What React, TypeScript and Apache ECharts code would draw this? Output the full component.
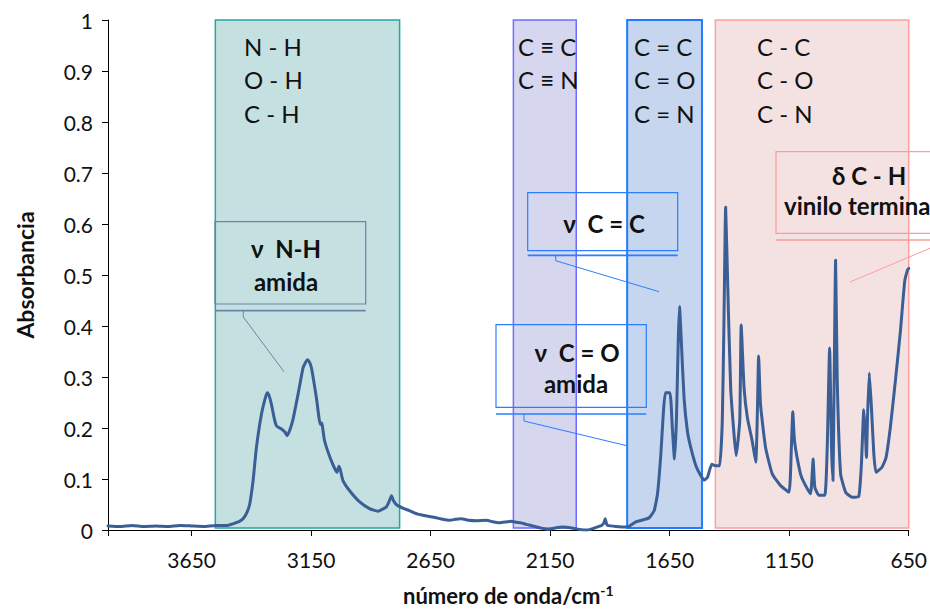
import React, { useEffect, useRef } from "react";
import * as echarts from "echarts";

// Spectrum (wavenumber cm-1, absorbance)
const wavenumbers = [
  4000, 3950, 3900, 3850, 3800, 3750, 3700, 3650, 3600, 3550, 3500, 3478, 3450, 3435, 3420, 3407, 3393, 3379, 3358, 3340,
  3333, 3325, 3316, 3305, 3295, 3274, 3260, 3251, 3240, 3226, 3205, 3184, 3172, 3166, 3158, 3149, 3128, 3112, 3106, 3103,
  3094, 3066, 3042, 3034, 3028, 3017, 2989, 2947, 2906, 2871, 2836, 2822, 2814, 2806, 2794, 2767, 2739, 2704, 2683, 2650,
  2627, 2600, 2571, 2545, 2523, 2490, 2460, 2418, 2390, 2363, 2314, 2290, 2272, 2250, 2223, 2190, 2160, 2130, 2098, 2060,
  2028, 1993, 1970, 1952, 1935, 1925, 1920, 1914, 1910, 1875, 1827, 1792, 1760, 1736, 1715, 1701, 1687, 1677, 1668, 1649,
  1639, 1630, 1622, 1614, 1609, 1602, 1590, 1576, 1562, 1538, 1506, 1492, 1474, 1458, 1441, 1430, 1423, 1416, 1407, 1395,
  1381, 1372, 1357, 1351, 1339, 1325, 1305, 1290, 1284, 1278, 1270, 1249, 1221, 1186, 1151, 1141, 1135, 1128, 1103, 1089,
  1061, 1054, 1050, 1043, 1026, 1001, 991, 981, 973, 967, 962, 956, 949, 935, 914, 886, 859, 848, 838, 831,
  827, 822, 815, 806, 796, 787, 762, 745, 727, 706, 685, 667, 655, 650,
];
const absorbance = [
  0.008, 0.007, 0.009, 0.007, 0.008, 0.007, 0.009, 0.008, 0.007, 0.009, 0.009, 0.012, 0.017, 0.022, 0.033, 0.051, 0.097, 0.162, 0.227, 0.262,
  0.269, 0.262, 0.246, 0.22, 0.204, 0.198, 0.192, 0.185, 0.195, 0.217, 0.266, 0.318, 0.33, 0.334, 0.33, 0.318, 0.259, 0.207, 0.21, 0.204,
  0.175, 0.136, 0.113, 0.125, 0.118, 0.097, 0.077, 0.055, 0.042, 0.037, 0.045, 0.058, 0.067, 0.058, 0.05, 0.043, 0.038, 0.031, 0.029, 0.026,
  0.024, 0.021, 0.019, 0.021, 0.022, 0.019, 0.018, 0.019, 0.016, 0.014, 0.017, 0.015, 0.014, 0.011, 0.008, 0.004, 0.001, 0.004, 0.006, 0.004,
  0.001, 0.0, 0.003, 0.006, 0.009, 0.014, 0.022, 0.012, 0.009, 0.007, 0.006, 0.016, 0.02, 0.024, 0.038, 0.071, 0.149, 0.227, 0.269, 0.269,
  0.201, 0.139, 0.214, 0.376, 0.438, 0.376, 0.259, 0.194, 0.162, 0.123, 0.098, 0.103, 0.129, 0.126, 0.126, 0.214, 0.409, 0.633, 0.474, 0.279,
  0.188, 0.146, 0.214, 0.402, 0.279, 0.22, 0.175, 0.133, 0.214, 0.341, 0.246, 0.162, 0.11, 0.087, 0.074, 0.162, 0.232, 0.175, 0.11, 0.094,
  0.071, 0.11, 0.139, 0.084, 0.068, 0.068, 0.162, 0.357, 0.162, 0.097, 0.292, 0.529, 0.292, 0.11, 0.074, 0.064, 0.066, 0.129, 0.236, 0.188,
  0.142, 0.227, 0.308, 0.24, 0.149, 0.113, 0.123, 0.142, 0.201, 0.292, 0.389, 0.487, 0.51, 0.513,
];

// Shaded spectral regions [from, to] in cm-1
const regionRanges = [
  [3551, 2780],
  [2304, 2041],
  [1828, 1515],
  [1459, 650],
];
const regionFills = ["rgba(62,152,152,0.3)", "rgba(91,91,191,0.25)", "rgba(62,118,198,0.3)", "rgba(200,110,110,0.2)"];
const regionBorders = ["#22a89f", "#6e6eff", "#1f7bff", "#ff9f9f"];

const xTickStart = 650;
const xTickStep = 500;

const FONT = "Lato, 'Open Sans', sans-serif";

function bandText(lines: string[], x: number, y0: number) {
  return lines.map((t, i) => ({
    type: "text",
    x,
    y: y0 + i * 33.5,
    style: { text: t, fill: "#111", font: `24px ${FONT}`, textVerticalAlign: "middle", textAlign: "left" },
    z: 50,
  }));
}

function calloutBox(
  color: string,
  box: [number, number, number, number],
  underY: number,
  underX2: number,
  leader: number[][],
  lw: number
) {
  const [x, y, w, h] = box;
  return [
    { type: "rect", shape: { x, y, width: w, height: h }, style: { fill: "none", stroke: color, lineWidth: lw }, z: 50 },
    { type: "line", shape: { x1: x, y1: underY, x2: underX2, y2: underY }, style: { stroke: color, lineWidth: lw + 0.5 }, z: 50 },
    { type: "polyline", shape: { points: leader }, style: { fill: "none", stroke: color, lineWidth: 1 }, z: 50 },
  ];
}

function boldText(t: string, x: number, y: number, align: string = "center") {
  return {
    type: "text",
    x,
    y,
    style: { text: t, fill: "#111", font: `bold 24px ${FONT}`, textVerticalAlign: "middle", textAlign: align },
    z: 51,
  };
}

export default function App() {
  const ref = useRef<HTMLDivElement>(null);
  useEffect(() => {
    if (!ref.current) return;
    const chart = echarts.init(ref.current, undefined, { renderer: "svg" });
    const data = wavenumbers.map((w, i) => [w, absorbance[i]]);
    const areas = regionRanges.map((r, i) => [
      {
        xAxis: r[0],
        yAxis: 1,
        itemStyle: { color: regionFills[i], borderColor: regionBorders[i], borderWidth: i === 2 ? 2 : 1.5 },
      },
      { xAxis: r[1], yAxis: 0.004 },
    ]);

    const graphics: any[] = [
      ...bandText(["N - H", "O - H", "C - H"], 244, 46),
      ...bandText(["C \u2261 C", "C \u2261 N"], 518, 46),
      ...bandText(["C = C", "C = O", "C = N"], 634, 46),
      ...bandText(["C - C", "C - O", "C - N"], 757, 46),
      ...calloutBox("#6b84a8", [215, 221.7, 150.7, 82.3], 310.7, 365.7, [[243.3, 310.7], [243.3, 317], [284, 371.7]], 1.2),
      boldText("\u03bd  N-H", 286, 248),
      boldText("amida", 286, 281),
      ...calloutBox("#2a7fff", [527.7, 192.7, 150, 58], 255.3, 677.7, [[555.7, 255.3], [555.7, 260.7], [659, 291.7]], 1.2),
      boldText("\u03bd  C = C", 604, 223),
      ...calloutBox("#2a7fff", [496, 324.7, 150.3, 82.6], 414, 646.3, [[524, 414], [524, 421], [626.7, 445.7]], 1.2),
      boldText("\u03bd  C = O", 577, 352),
      boldText("amida", 576, 383),
      ...calloutBox("#ff9a9a", [776, 151.7, 220, 81.6], 240, 1000, [[940, 244], [850, 282]], 1.2),
      boldText("\u03b4 C - H", 869, 175),
      boldText("vinilo terminal", 784, 205, "left"),
    ];

    chart.setOption({
      animation: false,
      backgroundColor: "#fff",
      textStyle: { fontFamily: FONT },
      grid: { left: 108, right: 20, top: 20, bottom: 78, containLabel: false },
      xAxis: {
        type: "value",
        inverse: true,
        min: xTickStart,
        max: 4000,
        interval: xTickStep,
        name: "número de onda/cm{sup|-1}",
        nameLocation: "middle",
        nameGap: 53,
        nameTextStyle: {
          fontFamily: FONT,
          fontWeight: "bold",
          fontSize: 22,
          color: "#111",
          rich: { sup: { fontSize: 14, fontWeight: "bold", color: "#111", fontFamily: FONT, verticalAlign: "top", padding: [0, 0, 10, 0] } },
        },
        axisLine: { show: true, lineStyle: { color: "#000", width: 1 } },
        axisTick: { show: true, inside: false, length: 6, lineStyle: { color: "#000" } },
        axisLabel: {
          fontFamily: FONT,
          fontSize: 21,
          color: "#111",
          margin: 19,
          formatter: (v: number) => (v === 4000 ? "" : String(v)),
        },
        splitLine: { show: false },
      },
      yAxis: {
        type: "value",
        min: 0,
        max: 1,
        interval: 0.1,
        name: "Absorbancia",
        nameLocation: "middle",
        nameGap: 72,
        nameTextStyle: { fontFamily: FONT, fontWeight: "bold", fontSize: 23, color: "#111" },
        axisLine: { show: true, lineStyle: { color: "#000", width: 1 } },
        axisTick: { show: true, inside: false, length: 6, lineStyle: { color: "#000" } },
        axisLabel: {
          fontFamily: FONT,
          fontSize: 21,
          color: "#111",
          margin: 15,
          formatter: (v: number) => String(Math.round(v * 10) / 10),
        },
        splitLine: { show: false },
      },
      series: [
        {
          type: "line",
          data,
          showSymbol: false,
          symbol: "none",
          smooth: 0.15,
          lineStyle: { color: "#3a5e96", width: 3, cap: "round", join: "round" },
          z: 2,
          silent: true,
        },
        {
          type: "line",
          data: [],
          showSymbol: false,
          symbol: "none",
          z: 5,
          silent: true,
          markArea: { silent: true, data: areas },
        },
      ],
      graphic: graphics,
    });
    return () => chart.dispose();
  }, []);
  return <div ref={ref} style={{ width: 930, height: 611, position: "absolute", left: 0, top: 0 }} />;
}
